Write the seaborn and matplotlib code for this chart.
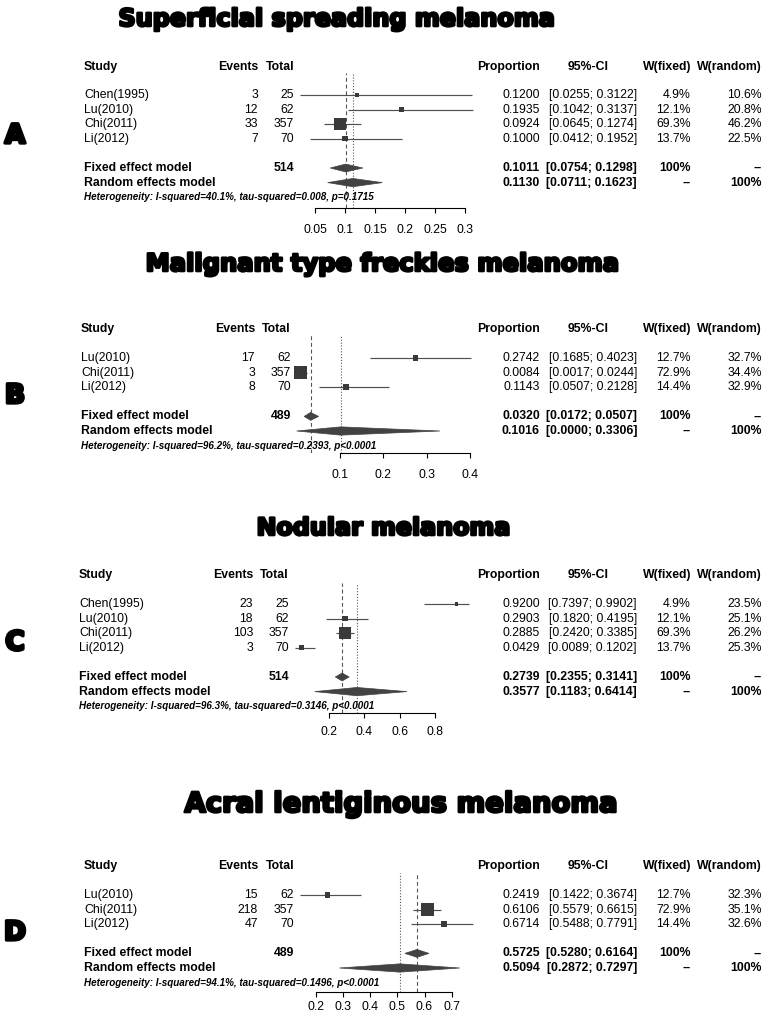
import numpy as np
import pandas as pd
import matplotlib
matplotlib.use("Agg")
import matplotlib.pyplot as plt
import matplotlib.transforms as mtransforms
from matplotlib.patches import Polygon
import matplotlib.patheffects as pe
import seaborn as sns

sns.set_theme(style="white")
plt.rcParams['font.family'] = ['Liberation Sans', 'DejaVu Sans']
plt.rcParams['text.color'] = 'black'
plt.rcParams['xtick.color'] = 'black'
plt.rcParams['axes.labelcolor'] = 'black'

# ---------------- data ----------------
A_title = "Superficial spreading melanoma"
A_studies = ["Chen(1995)", "Lu(2010)", "Chi(2011)", "Li(2012)"]
A_events = [3, 12, 33, 7]
A_total = [25, 62, 357, 70]
A_prop = [0.1200, 0.1935, 0.0924, 0.1000]
A_lo = [0.0255, 0.1042, 0.0645, 0.0412]
A_hi = [0.3122, 0.3137, 0.1274, 0.1952]
A_wfix = [4.9, 12.1, 69.3, 13.7]
A_wran = [10.6, 20.8, 46.2, 22.5]
A_fixed = [0.1011, 0.0754, 0.1298]
A_random = [0.1130, 0.0711, 0.1623]
A_N = 514
A_het = "Heterogeneity: I-squared=40.1%, tau-squared=0.008, p=0.1715"
A_ticks = [0.05, 0.1, 0.15, 0.2, 0.25, 0.3]
A_ticklabels = ["0.05", "0.1", "0.15", "0.2", "0.25", "0.3"]

B_title = "Malignant type freckles melanoma"
B_studies = ["Lu(2010)", "Chi(2011)", "Li(2012)"]
B_events = [17, 3, 8]
B_total = [62, 357, 70]
B_prop = [0.2742, 0.0084, 0.1143]
B_lo = [0.1685, 0.0017, 0.0507]
B_hi = [0.4023, 0.0244, 0.2128]
B_wfix = [12.7, 72.9, 14.4]
B_wran = [32.7, 34.4, 32.9]
B_fixed = [0.0320, 0.0172, 0.0507]
B_random = [0.1016, 0.0000, 0.3306]
B_N = 489
B_het = "Heterogeneity: I-squared=96.2%, tau-squared=0.2393, p<0.0001"
B_ticks = [0.1, 0.2, 0.3, 0.4]
B_ticklabels = ["0.1", "0.2", "0.3", "0.4"]

C_title = "Nodular melanoma"
C_studies = ["Chen(1995)", "Lu(2010)", "Chi(2011)", "Li(2012)"]
C_events = [23, 18, 103, 3]
C_total = [25, 62, 357, 70]
C_prop = [0.9200, 0.2903, 0.2885, 0.0429]
C_lo = [0.7397, 0.1820, 0.2420, 0.0089]
C_hi = [0.9902, 0.4195, 0.3385, 0.1202]
C_wfix = [4.9, 12.1, 69.3, 13.7]
C_wran = [23.5, 25.1, 26.2, 25.3]
C_fixed = [0.2739, 0.2355, 0.3141]
C_random = [0.3577, 0.1183, 0.6414]
C_N = 514
C_het = "Heterogeneity: I-squared=96.3%, tau-squared=0.3146, p<0.0001"
C_ticks = [0.2, 0.4, 0.6, 0.8]
C_ticklabels = ["0.2", "0.4", "0.6", "0.8"]

D_title = "Acral lentiginous melanoma"
D_studies = ["Lu(2010)", "Chi(2011)", "Li(2012)"]
D_events = [15, 218, 47]
D_total = [62, 357, 70]
D_prop = [0.2419, 0.6106, 0.6714]
D_lo = [0.1422, 0.5579, 0.5488]
D_hi = [0.3674, 0.6615, 0.7791]
D_wfix = [12.7, 72.9, 14.4]
D_wran = [32.3, 35.1, 32.6]
D_fixed = [0.5725, 0.5280, 0.6164]
D_random = [0.5094, 0.2872, 0.7297]
D_N = 489
D_het = "Heterogeneity: I-squared=94.1%, tau-squared=0.1496, p<0.0001"
D_ticks = [0.2, 0.3, 0.4, 0.5, 0.6, 0.7]
D_ticklabels = ["0.2", "0.3", "0.4", "0.5", "0.6", "0.7"]

# ---------------- layout ----------------
W, H = 765, 1019
fig = plt.figure(figsize=(W / 100, H / 100), dpi=100)
fig.patch.set_facecolor("white")


def fx(px):
    return px / W


def fy(py):
    return 1 - py / H


ROW_H = 14.6
AX_L, AX_R = 296, 478
FS = 8.8
SQ_COL = "#3a3a3a"
LN_COL = "#505050"
DM_COL = "#424242"
heavy = [pe.withStroke(linewidth=1.9, foreground="black")]
heavy_letter = [pe.withStroke(linewidth=2.4, foreground="black")]

layouts = {
    "A": dict(title=(336, 19, 438), letter=136, header=67, first=95, axis=207.7, vtop=73,
              x0=285.0, ppu=600.0, dx=0, pad=8.3),
    "B": dict(title=(382, 264, 475), letter=396, header=329, first=358, axis=452.7, vtop=335,
              x0=296.7, ppu=433.3, dx=-3, pad=8.6),
    "C": dict(title=(383, 528, 255), letter=643, header=575, first=604, axis=712.7, vtop=583,
              x0=293.7, ppu=176.7, dx=-5, pad=6.2),
    "D": dict(title=(400, 804, 435), letter=933, header=866, first=895, axis=992.3, vtop=873,
              x0=261.3, ppu=272.0, dx=0, pad=2.7),
}

renderer = fig.canvas.get_renderer()


def draw_panel(letter, title, studies, events, total, prop, lo, hi, wfix, wran,
               fixed, random, N, het, ticks, ticklabels):
    lay = layouts[letter]
    n = len(studies)

    def row(px):
        return (px - lay["first"]) / ROW_H

    # title and panel letter
    tx, ty, tw = lay["title"]
    t = fig.text(fx(tx), fy(ty), title, ha="center", va="center", fontsize=18,
                 family="DejaVu Sans", weight="bold", color="black", path_effects=heavy)
    w = t.get_window_extent(renderer).width
    t.set_fontsize(18 * tw / w)
    fig.text(fx(15), fy(lay["letter"]), letter, ha="center", va="center", fontsize=19,
             family="DejaVu Sans", weight="bold", color="black", path_effects=heavy_letter)

    ax = fig.add_axes([fx(AX_L), fy(lay["axis"]), (AX_R - AX_L) / W,
                       (lay["axis"] - lay["vtop"]) / H])
    ax.patch.set_alpha(0)
    ax.set_xlim((AX_L - lay["x0"]) / lay["ppu"], (AX_R - lay["x0"]) / lay["ppu"])
    ax.set_ylim(row(lay["axis"]), row(lay["vtop"]))

    df = pd.DataFrame(dict(study=studies, events=events, total=total, prop=prop,
                           lo=lo, hi=hi, wfix=wfix, wran=wran))
    df["row"] = np.arange(n)

    # reference lines
    ax.axvline(fixed[0], color="#555555", lw=0.8, ls=(0, (3.5, 2.5)), zorder=1)
    ax.axvline(random[0], color="#555555", lw=0.8, ls=(0, (1, 1.6)), zorder=1)

    # CI lines
    ax.hlines(df["row"], df["lo"], df["hi"], color=LN_COL, lw=0.85, zorder=2, clip_on=False)
    # squares sized by fixed weight
    sizes = {wv: (1.45 * np.sqrt(wv) * 0.72) ** 2 for wv in df["wfix"]}
    sns.scatterplot(data=df, x="prop", y="row", size="wfix", sizes=sizes, marker="s",
                    color=SQ_COL, linewidth=0, legend=False, ax=ax, zorder=3, clip_on=False)

    # diamonds
    yf, yr = n + 1, n + 2
    dh = 0.27
    for (est, l, h), yy, hh in ((fixed, yf, dh), (random, yr, dh * 1.05)):
        ax.add_patch(Polygon([(l, yy), (est, yy - hh), (h, yy), (est, yy + hh)],
                             closed=True, facecolor=DM_COL, edgecolor=DM_COL, lw=0.5,
                             zorder=3, clip_on=False))

    # axis
    for s in ("left", "right", "top"):
        ax.spines[s].set_visible(False)
    ax.spines["bottom"].set_bounds(ticks[0], ticks[-1])
    ax.spines["bottom"].set_color("black")
    ax.spines["bottom"].set_linewidth(0.8)
    ax.set_xticks(ticks)
    ax.set_xticklabels(ticklabels)
    ax.set_yticks([])
    ax.set_xlabel("")
    ax.set_ylabel("")
    ax.tick_params(axis="x", direction="out", length=3.4, width=0.8, pad=lay["pad"],
                   labelsize=FS, colors="black", bottom=True)

    # text table
    tr = mtransforms.blended_transform_factory(fig.transFigure, ax.transData)
    d = lay["dx"]

    def T(px, y, s, ha="left", shift=False, **kw):
        xx = px + (d if shift else 0)
        ax.text(fx(xx), y, s, ha=ha, va="center", fontsize=kw.pop("fs", FS),
                transform=tr, color="black", clip_on=False, **kw)

    yh = row(lay["header"])
    T(84, yh, "Study", shift=True, weight="bold")
    T(258, yh, "Events", ha="right", shift=True, weight="bold")
    T(294, yh, "Total", ha="right", shift=True, weight="bold")
    T(540, yh, "Proportion", ha="right", weight="bold")
    T(588, yh, "95%-CI", ha="center", weight="bold")
    T(691, yh, "W(fixed)", ha="right", weight="bold")
    T(762, yh, "W(random)", ha="right", weight="bold")

    for _, r in df.iterrows():
        y = r["row"]
        T(84, y, r["study"], shift=True)
        T(258, y, f"{int(r['events'])}", ha="right", shift=True)
        T(294, y, f"{int(r['total'])}", ha="right", shift=True)
        T(540, y, f"{r['prop']:.4f}", ha="right")
        T(637, y, f"[{r['lo']:.4f}; {r['hi']:.4f}]", ha="right")
        T(691, y, f"{r['wfix']:.1f}%", ha="right")
        T(762, y, f"{r['wran']:.1f}%", ha="right")

    T(84, yf, "Fixed effect model", shift=True, weight="bold")
    T(294, yf, f"{N}", ha="right", shift=True, weight="bold")
    T(540, yf, f"{fixed[0]:.4f}", ha="right", weight="bold")
    T(637, yf, f"[{fixed[1]:.4f}; {fixed[2]:.4f}]", ha="right", weight="bold")
    T(691, yf, "100%", ha="right", weight="bold")
    T(762, yf, "--", ha="right", weight="bold")

    T(84, yr, "Random effects model", shift=True, weight="bold")
    T(540, yr, f"{random[0]:.4f}", ha="right", weight="bold")
    T(637, yr, f"[{random[1]:.4f}; {random[2]:.4f}]", ha="right", weight="bold")
    T(691, yr, "--", ha="right", weight="bold")
    T(762, yr, "100%", ha="right", weight="bold")

    T(84, n + 3, het, shift=True, fs=7.15, weight="bold", style="italic")


draw_panel("A", A_title, A_studies, A_events, A_total, A_prop, A_lo, A_hi, A_wfix, A_wran,
           A_fixed, A_random, A_N, A_het, A_ticks, A_ticklabels)
draw_panel("B", B_title, B_studies, B_events, B_total, B_prop, B_lo, B_hi, B_wfix, B_wran,
           B_fixed, B_random, B_N, B_het, B_ticks, B_ticklabels)
draw_panel("C", C_title, C_studies, C_events, C_total, C_prop, C_lo, C_hi, C_wfix, C_wran,
           C_fixed, C_random, C_N, C_het, C_ticks, C_ticklabels)
draw_panel("D", D_title, D_studies, D_events, D_total, D_prop, D_lo, D_hi, D_wfix, D_wran,
           D_fixed, D_random, D_N, D_het, D_ticks, D_ticklabels)

fig.savefig("out.png", dpi=100, facecolor="white")
